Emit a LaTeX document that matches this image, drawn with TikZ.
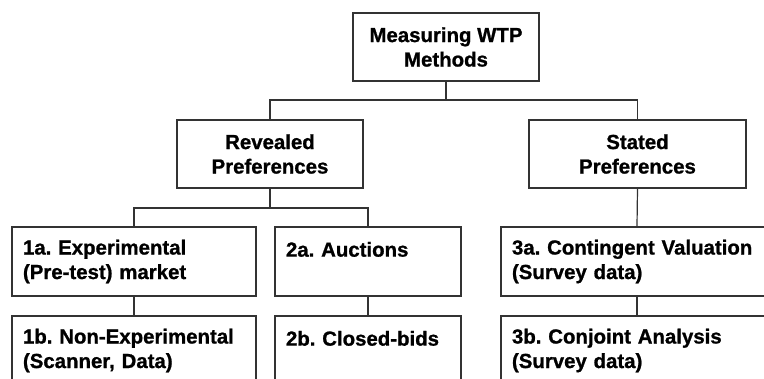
\documentclass[tikz,border=0pt]{standalone}
\usepackage{fontspec}
\setmainfont{Liberation Sans}[BoldFeatures={FakeBold=1}]
\frenchspacing
\begin{document}
\begin{tikzpicture}[x=1pt,y=-1pt,
  every node/.style={font=\bfseries\fontsize{20.4}{24.5}\selectfont, text=black},
  box/.style={draw=black!80, line width=1.2pt, rectangle, inner ysep=0pt},
  headbox/.style={box, align=center, minimum height=68pt},
  leafbox/.style={box, align=left, inner xsep=11pt, text width=#1-22pt, minimum height=69pt},
  link/.style={draw=black!80, line width=1.2pt}
]
\useasboundingbox (0,0) rectangle (764,378);
\clip (0,0) rectangle (764,378);

% upper levels
\node[headbox, minimum width=186pt] (top)  at (446,47)    {Measuring WTP\\Methods};
\node[headbox, minimum width=186pt] (rev)  at (270,154)   {Revealed\\Preferences};
\node[headbox, minimum width=217pt] (stat) at (637.5,154) {Stated\\Preferences};

% method boxes
\node[leafbox=244pt] (e1a) at (134,261.5) {1a. Experimental\\(Pre-test) market};
\node[leafbox=244pt] (e1b) at (134,350.5) {1b. Non-Experimental\\(Scanner, Data)};
\node[leafbox=186pt] (e2a) at (368,261.5) {2a. Auctions\\\mbox{}};
\node[leafbox=186pt] (e2b) at (368,350.5) {2b. Closed-bids\\\mbox{}};
\node[leafbox=272pt] (e3a) at (637,261.5) {3a. Contingent Valuation\\(Survey data)};
\node[leafbox=272pt] (e3b) at (637,350.5) {3b. Conjoint Analysis\\(Survey data)};

% bus lines
\coordinate (bus1) at (0,100);
\coordinate (bus2) at (0,208);

% connectors
\draw[link] (top.south) -- (top.south |- bus1);
\draw[link] (rev.north) -- (rev.north |- bus1) -| (stat.north);
\draw[link] (rev.south) -- (rev.south |- bus2);
\draw[link] (e1a.north) -- (e1a.north |- bus2) -| (e2a.north);
\draw[link] (stat.south) -- (e3a.north);
\draw[link] (e1a.south) -- (e1b.north);
\draw[link] (e2a.south) -- (e2b.north);
\draw[link] (e3a.south) -- (e3b.north);
\end{tikzpicture}
\end{document}
